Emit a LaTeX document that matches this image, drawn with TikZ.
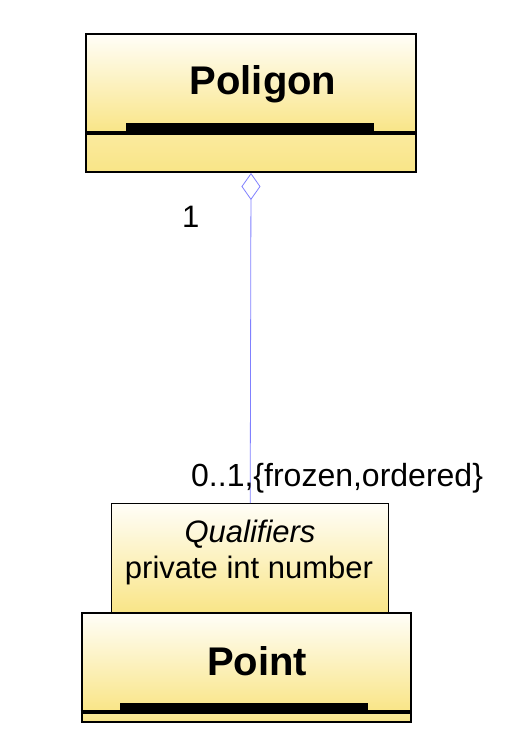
\documentclass[tikz,border=0pt]{standalone}
\usepackage{fontspec}
\setmainfont{Liberation Sans}
\usetikzlibrary{positioning,arrows.meta}
\definecolor{umlyel}{RGB}{249,229,135}
\definecolor{umltop}{RGB}{255,254,248}
\definecolor{umlline}{RGB}{128,128,255}
\tikzset{
  classbox/.style={draw=black,line width=2pt,inner sep=0pt,
    top color=umltop,bottom color=umlyel,anchor=north west},
  opsbox/.style={draw=black,line width=2pt,inner sep=0pt,
    top color=umlyel!80,bottom color=umlyel,anchor=north west},
  qualbox/.style={draw=black,line width=1.4pt,inner sep=0pt,
    top color=umltop,bottom color=umlyel,anchor=north west},
  classname/.style={font=\fontsize{40}{44}\selectfont\bfseries,inner sep=0pt,anchor=base},
  umltxt/.style={font=\fontsize{31}{36}\selectfont,inner sep=0pt,anchor=base},
  divbar/.style={fill=black},
  divline/.style={draw=black,line width=3.5pt},
  assoc/.style={umlline,line width=0.8pt,
    {Diamond[open,fill=white,length=27pt,width=19pt]}-},
}

\begin{document}
\begin{tikzpicture}[x=1pt,y=-1pt]
  \useasboundingbox (0,0) rectangle (512,743);
  % Poligon class
  \node[classbox,minimum width=330pt,minimum height=98pt] (poligon) at (85,33) {};
  \node[opsbox,minimum width=330pt,minimum height=40pt] (poligonops) at (85,131) {};
  \node[classname] (poligonname) at (263,95) {Poligon};
  \fill[divbar] (126,123) rectangle (374,131);
  \draw[divline] (poligon.south west) -- (poligon.south east);
  % qualifier box and Point class
  \node[qualbox,minimum width=277pt,minimum height=109pt] (qual) at (111,503) {};
  \node[umltxt,font=\fontsize{31}{36}\selectfont\itshape] (qualtitle) at (250,542) {Qualifiers};
  \node[umltxt] (qualattr) at (249,578) {private int number};
  \node[classbox,minimum width=329pt,minimum height=98pt] (point) at (80.5,612) {};
  \node[opsbox,minimum width=329pt,minimum height=11pt] (pointops) at (80.5,710) {};
  \node[classname] (pointname) at (257,675) {Point};
  \fill[divbar] (120,703) rectangle (368,710);
  \draw[divline] (point.south west) -- (point.south east);
  % association
  \draw[assoc] (poligonops.south) -- (qual.north);
  \node[umltxt,anchor=base west] (mult1) at (182,227) {1};
  \node[umltxt,anchor=base west,font=\fontsize{32}{36}\selectfont] (mult2) at (191,486) {0..1,\{frozen,ordered\}};
\end{tikzpicture}
\end{document}
